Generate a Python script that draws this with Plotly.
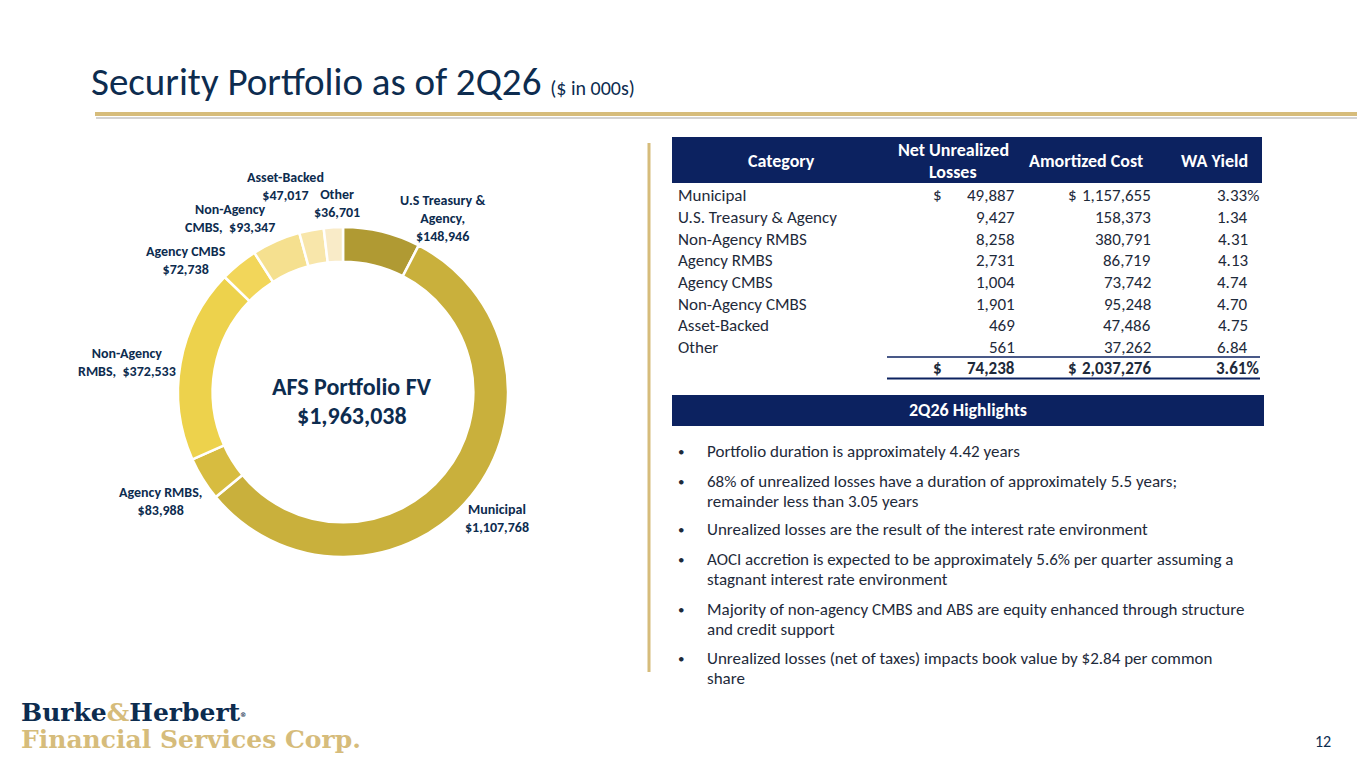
import plotly.graph_objects as go

W, H = 1365, 768
OFF = 8  # page body margin around the plot div

NAVY = "#0D2C4F"
HEAD_BG = "#0C2260"
GOLD = "#D6BC7B"
TXT = "#1E2A3A"
FONT = "Calibri, Carlito, Roboto, sans-serif"

# donut: AFS fair value ($000s), clockwise from 12 o'clock
slice_names = ["U.S Treasury & Agency", "Municipal", "Agency RMBS", "Non-Agency RMBS",
               "Agency CMBS", "Non-Agency CMBS", "Asset-Backed", "Other"]
slice_values = [148946, 1107768, 83988, 372533, 72738, 93347, 47017, 36701]
slice_colors = ["#B09A33", "#C9B03C", "#D7BC40", "#EDD24C",
                "#F2D65A", "#F5E08F", "#F8E6AA", "#F9EBC8"]
label_text = ["U.S Treasury &<br>Agency,<br>", "Municipal<br>", "Agency RMBS,<br>",
              "Non-Agency<br>RMBS,  ", "Agency CMBS<br>", "Non-Agency<br>CMBS,  ",
              "Asset-Backed<br>", "Other<br>"]
label_xy = [(443, 219), (497, 518), (160, 501), (127, 362),
            (186, 261), (230, 219), (285, 187), (337, 204)]
total_fv = sum(slice_values)

# table
categories = ["Municipal", "U.S. Treasury & Agency", "Non-Agency RMBS", "Agency RMBS",
              "Agency CMBS", "Non-Agency CMBS", "Asset-Backed", "Other"]
net_unrealized = [49887, 9427, 8258, 2731, 1004, 1901, 469, 561]
amortized_cost = [1157655, 158373, 380791, 86719, 73742, 95248, 47486, 37262]
wa_yield = [3.33, 1.34, 4.31, 4.13, 4.74, 4.70, 4.75, 6.84]
total_net = 74238
total_cost = 2037276
total_yield = 3.61
headers = ["Category", "Net Unrealized<br>Losses", "Amortized Cost", "WA Yield"]

highlights = [
    "Portfolio duration is approximately 4.42 years",
    "68% of unrealized losses have a duration of approximately 5.5 years;<br>remainder less than 3.05 years",
    "Unrealized losses are the result of the interest rate environment",
    "AOCI accretion is expected to be approximately 5.6% per quarter assuming a<br>stagnant interest rate environment",
    "Majority of non-agency CMBS and ABS are equity enhanced through structure<br>and credit support",
    "Unrealized losses (net of taxes) impacts book value by $2.84 per common<br>share",
]
bullet_y = [451, 481, 529, 559, 609, 658]


def px(x):
    return (x - OFF) / W


def py(y):
    return 1 - (y - OFF) / H


annotations = []
shapes = []


def text(x, y, s, size=17, color=TXT, bold=False, xanchor="left", yanchor="middle",
         family=FONT, align="left"):
    if bold:
        s = "<b>" + s + "</b>"
    annotations.append(dict(x=px(x), y=py(y), xref="paper", yref="paper", text=s,
                            showarrow=False, xanchor=xanchor, yanchor=yanchor, align=align,
                            font=dict(size=size, color=color, family=family)))


def rect(x0, y0, x1, y1, fill):
    shapes.append(dict(type="rect", xref="paper", yref="paper", x0=px(x0), x1=px(x1),
                       y0=py(y1), y1=py(y0), fillcolor=fill, line=dict(width=0), layer="below"))


def line(x0, y0, x1, y1, color, width):
    shapes.append(dict(type="line", xref="paper", yref="paper", x0=px(x0), x1=px(x1),
                       y0=py(y0), y1=py(y1), line=dict(color=color, width=width)))


# title
text(89, 82, "Security Portfolio as of 2Q26 <span style='font-size:20px'>($ in 000s)</span>",
     size=39, color=NAVY)
line(96, 118, W + OFF, 118, "#D3D3D3", 2)
line(95, 114, W + OFF, 114, GOLD, 4)

# donut
cx, cy, r = 343, 392, 165
fig = go.Figure(go.Pie(
    labels=slice_names, values=slice_values, sort=False, direction="clockwise",
    rotation=0, hole=0.79, textinfo="none", hoverinfo="label+value",
    marker=dict(colors=slice_colors, line=dict(color="white", width=2.5)),
    domain=dict(x=[px(cx - r), px(cx + r)], y=[py(cy + r), py(cy - r)]),
    showlegend=False,
))

for t, v, (lx, ly) in zip(label_text, slice_values, label_xy):
    text(lx, ly, t + f"${v:,}", size=14, color=NAVY, bold=True, xanchor="center",
         align="center")

text(352, 386, "AFS Portfolio FV", size=24, color=NAVY, bold=True, xanchor="center")
text(352, 415, f"${total_fv:,}", size=24, color=NAVY, bold=True, xanchor="center")

# divider
line(649, 143, 649, 672, GOLD, 3)

# table header
rect(672, 137, 1262, 183, HEAD_BG)
text(781, 161, headers[0], size=18, color="white", bold=True, xanchor="center")
for k, part in enumerate(headers[1].split("<br>")):
    text(953, 150 + 22 * k, part, size=18, color="white", bold=True, xanchor="center")
text(1086, 161, headers[2], size=18, color="white", bold=True, xanchor="center")
text(1214, 161, headers[3], size=18, color="white", bold=True, xanchor="center")

row_y = [196 + i * 21.6 for i in range(len(categories))]
for i, (c, n, a, w) in enumerate(zip(categories, net_unrealized, amortized_cost, wa_yield)):
    y = row_y[i]
    text(676, y, c)
    text(1017, y, f"{n:,}", xanchor="right")
    text(1153, y, f"{a:,}", xanchor="right")
    if i == 0:
        text(931, y, "$")
        text(1066, y, "$")
        text(1261, y, f"{w:.2f}%", xanchor="right")
    else:
        text(1250, y, f"{w:.2f}", xanchor="right")

ty = 368
line(887, 357, 1260, 357, HEAD_BG, 1.5)
line(887, 378.5, 1260, 378.5, HEAD_BG, 2)
text(931, ty, "$", bold=True)
text(1066, ty, "$", bold=True)
text(1017, ty, f"{total_net:,}", bold=True, xanchor="right")
text(1153, ty, f"{total_cost:,}", bold=True, xanchor="right")
text(1261, ty, f"{total_yield:.2f}%", bold=True, xanchor="right")

# highlights
rect(672, 395, 1264, 426, HEAD_BG)
text(968, 410, "2Q26 Highlights", size=18, color="white", bold=True, xanchor="center")
for s, by in zip(highlights, bullet_y):
    text(676, by, "•", size=13)
    for k, part in enumerate(s.split("<br>")):
        text(705, by + 20 * k, part)

# logo + page number
text(19, 712, "Burke<span style='color:#D6BC7B'>&</span>Herbert<span style='font-size:9px'><sup>®</sup></span>",
     size=25, color=NAVY, bold=True, family="DejaVu Serif, serif")
text(19, 739, "Financial Services Corp.", size=25, color=GOLD, bold=True,
     family="DejaVu Serif, serif")
text(1333, 741, "12", size=16, color=NAVY, xanchor="right")

fig.update_layout(width=W, height=H, margin=dict(l=0, r=0, t=0, b=0),
                  paper_bgcolor="white", plot_bgcolor="white",
                  annotations=annotations, shapes=shapes)

fig.write_html("out.html")
